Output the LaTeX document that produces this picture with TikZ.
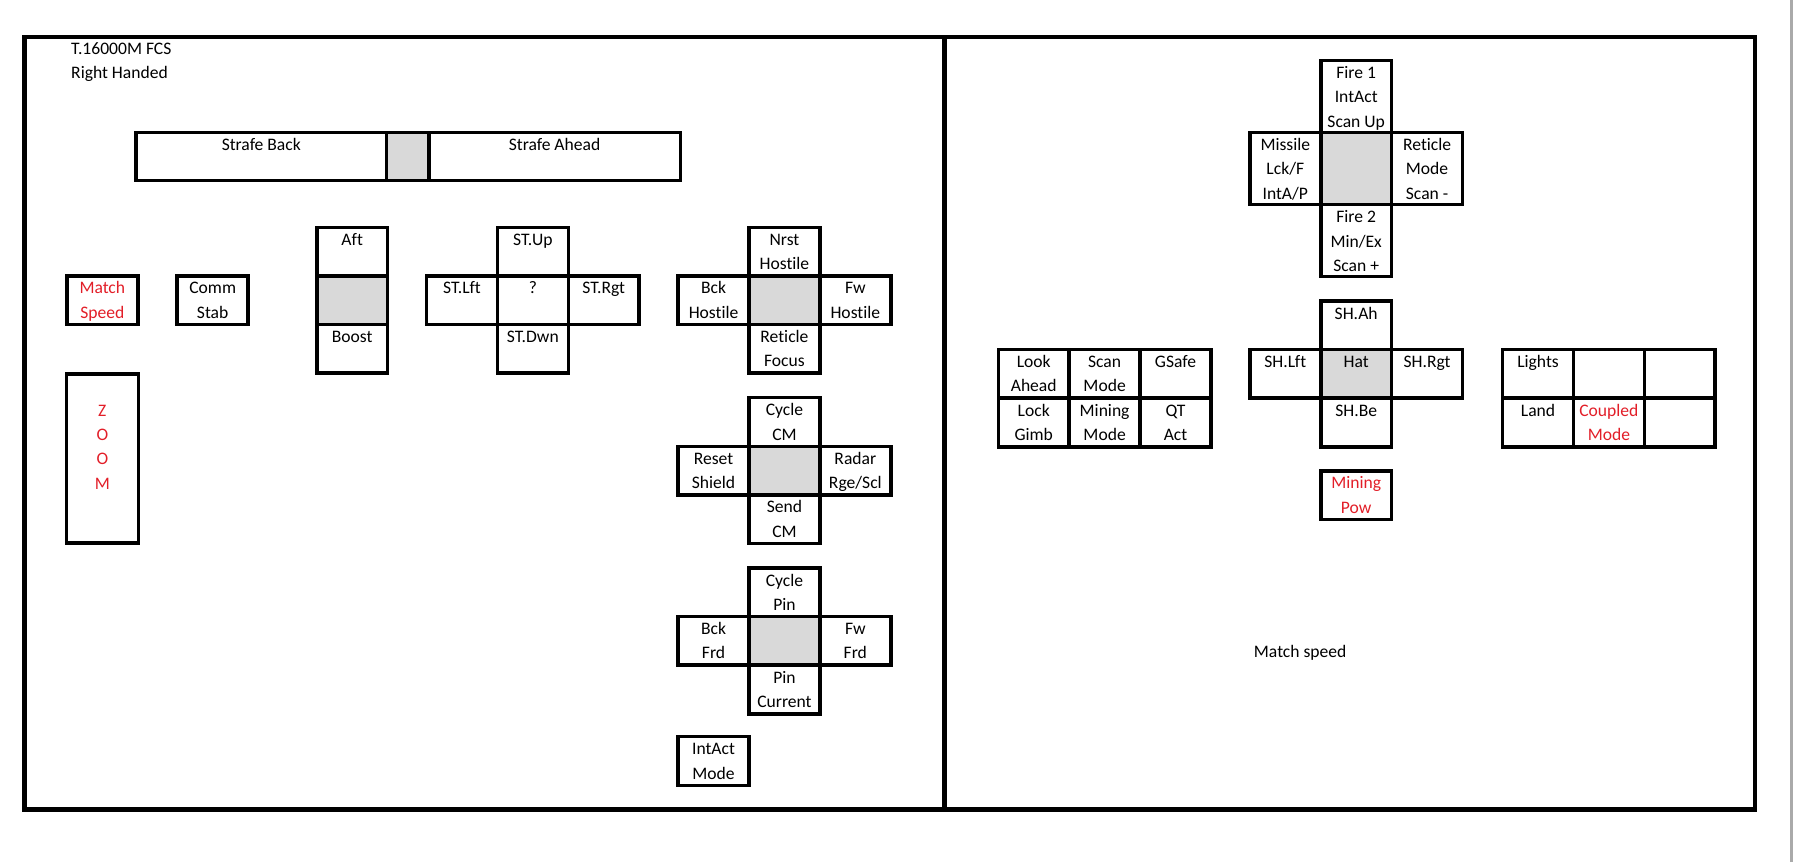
\documentclass[tikz,border=0pt]{standalone}
\usepackage{fontspec}
\setmainfont{Carlito}[Ligatures=NoCommon]
\usepackage{xcolor}
\usetikzlibrary{positioning}
\definecolor{hatgray}{RGB}{217,217,217}
\definecolor{warnred}{RGB}{226,30,40}
\definecolor{edgegray}{RGB}{170,170,170}

\begin{document}
\begin{tikzpicture}[x=0.02287cm,y=-0.02287cm,
  every node/.style={font=\fontsize{10}{13.8}\selectfont},
  cell/.style 2 args={draw, line width=2pt, inner sep=0pt, outer sep=0pt,
    execute at begin node={\begin{minipage}[c][#1][t]{#2}\centering\rule{0pt}{10.3pt}},
    execute at end node={\end{minipage}}},
  key/.style={cell={0.972cm}{1.418cm}},
  tall key/.style={cell={1.441cm}{1.418cm}},
  hat/.style={fill=hatgray},
  warn/.style={text=warnred}]
\useasboundingbox (0,0) rectangle (1568,754);

% Frame
\draw[line width=2.4pt] (21.4,32.4) rectangle (1535,708);
\draw[line width=2.4pt] (826,32.4) -- (826,708);
\draw[edgegray, line width=1.7pt] (1566.7,0) -- (1566.7,754);

% Heading
\node (fcs) [anchor=base west, inner sep=0pt] at (62,47.5) {T.16000M FCS};
\node (hand) [anchor=base west, inner sep=0pt] at (62,68.5) {Right Handed};

% Strafe slider
\node[cell={0.96cm}{5.01cm}] (back) at (228.5,137) {Strafe Back};
\node[cell={0.96cm}{0.846cm}, hat] (slide) [right=0pt of back] {};
\node[cell={0.96cm}{5.03cm}] (ahead) [right=0pt of slide] {Strafe Ahead};

% Left buttons
\node[key, warn] (match) at (89.5,262.5) {Match\\Speed};
\node[key] (comm) at (186,262.5) {Comm\\Stab};
\node[cell={3.385cm}{1.44cm}, warn] (zoom) at (89.5,401) {\\Z\\O\\O\\M};

% Throttle
\node[key, hat] (thr) at (308,262.5) {};
\node[key] (aft) [above=0pt of thr] {Aft};
\node[key] (boost) [below=0pt of thr] {Boost};

% Strafe hat
\node[key] (st) at (466,262.5) {?};
\node[key] (stup) [above=0pt of st] {ST.Up};
\node[key] (stlft) [left=0pt of st] {ST.Lft};
\node[key] (strgt) [right=0pt of st] {ST.Rgt};
\node[key] (stdwn) [below=0pt of st] {ST.Dwn};

% Target hat
\node[key, hat] (tgt) at (686,262.5) {};
\node[key] (nrst) [above=0pt of tgt] {Nrst\\Hostile};
\node[key] (bckh) [left=0pt of tgt] {Bck\\Hostile};
\node[key] (fwh) [right=0pt of tgt] {Fw\\Hostile};
\node[key] (focus) [below=0pt of tgt] {Reticle\\Focus};

% CM hat
\node[key, hat] (cm) at (686,411.5) {};
\node[key] (cyclecm) [above=0pt of cm] {Cycle\\CM};
\node[key] (reset) [left=0pt of cm] {Reset\\Shield};
\node[key] (radar) [right=0pt of cm] {Radar\\Rge/Scl};
\node[key] (sendcm) [below=0pt of cm] {Send\\CM};

% Pin hat
\node[key, hat] (pin) at (686,560.5) {};
\node[key] (cyclepin) [above=0pt of pin] {Cycle\\Pin};
\node[key] (bckfrd) [left=0pt of pin] {Bck\\Frd};
\node[key] (fwfrd) [right=0pt of pin] {Fw\\Frd};
\node[key] (pincur) [below=0pt of pin] {Pin\\Current};

\node[key] (intact) at (624,665.5) {IntAct\\Mode};

% Stick: fire hat
\node[tall key, hat] (fire) at (1186,147.5) {};
\node[tall key] (fire1) [above=0pt of fire] {Fire 1\\IntAct\\Scan Up};
\node[tall key] (missile) [left=0pt of fire] {Missile\\Lck/F\\IntA/P};
\node[tall key] (reticle) [right=0pt of fire] {Reticle\\Mode\\Scan -};
\node[tall key] (fire2) [below=0pt of fire] {Fire 2\\Min/Ex\\Scan +};

% Stick: base buttons left
\node[key] (look) at (904,327) {Look\\Ahead};
\node[key] (scan) [right=0pt of look] {Scan\\Mode};
\node[key] (gsafe) [right=0pt of scan] {GSafe};
\node[key] (lock) [below=0pt of look] {Lock\\Gimb};
\node[key] (mining) [below=0pt of scan] {Mining\\Mode};
\node[key] (qt) [below=0pt of gsafe] {QT\\Act};

% Stick: shield hat
\node[key, hat] (sh) at (1186,327) {Hat};
\node[key] (shah) [above=0pt of sh] {SH.Ah};
\node[key] (shlft) [left=0pt of sh] {SH.Lft};
\node[key] (shrgt) [right=0pt of sh] {SH.Rgt};
\node[key] (shbe) [below=0pt of sh] {SH.Be};

\node[key, warn] (pow) at (1186,433) {Mining\\Pow};

% Stick: base buttons right
\node[key] (lights) at (1345,327) {Lights};
\node[key] (blank1) [right=0pt of lights] {};
\node[key] (blank2) [right=0pt of blank1] {};
\node[key] (land) [below=0pt of lights] {Land};
\node[key, warn] (coupled) [below=0pt of blank1] {Coupled\\Mode};
\node[key] (blank3) [below=0pt of blank2] {};

\node (note) [anchor=base] at (1137,575) {Match speed};
\end{tikzpicture}
\end{document}
